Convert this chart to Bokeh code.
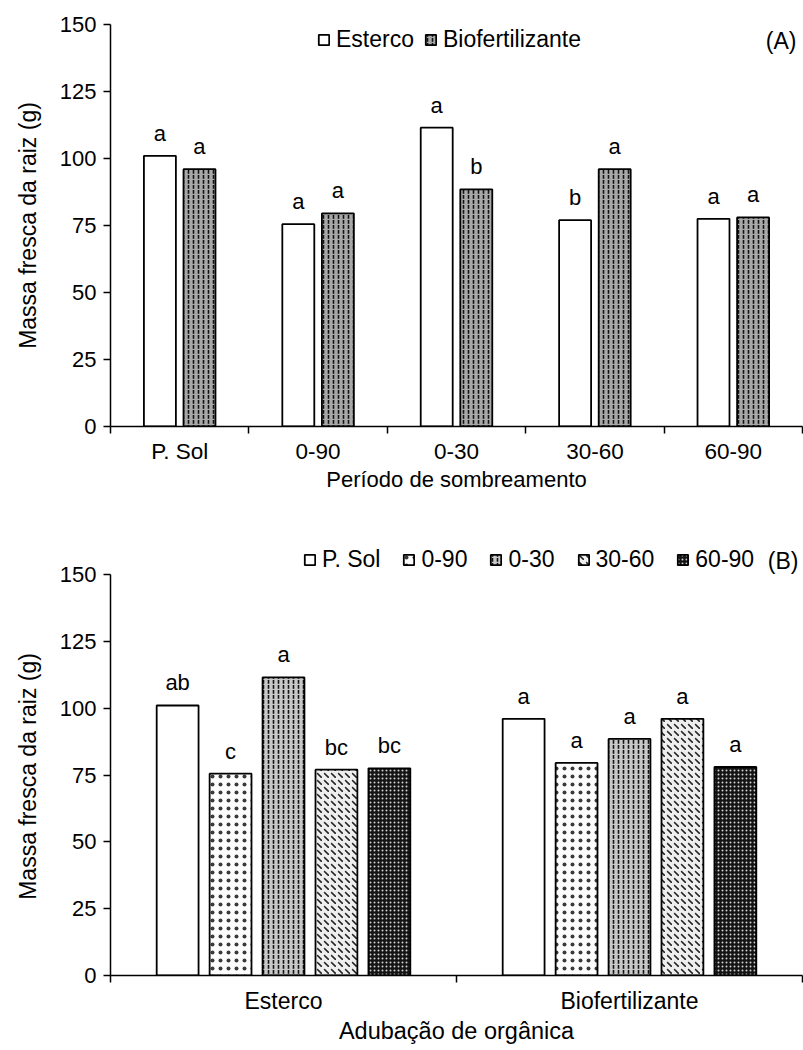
import numpy as np
from bokeh.plotting import figure
from bokeh.models import (ColumnDataSource, Range1d, FixedTicker, Legend,
                          LegendItem, LabelSet, Label)
from bokeh.layouts import column
from bokeh.core.properties import value
from bokeh.embed import file_html
from bokeh.resources import INLINE

# ---------------- data ----------------
periods = ["P. Sol", "0-90", "0-30", "30-60", "60-90"]
fertilizers = ["Esterco", "Biofertilizante"]
esterco = [101.0, 75.5, 111.5, 77.0, 77.5]
biofert = [96.0, 79.5, 88.5, 96.0, 78.0]
letters_esterco_A = ["a", "a", "a", "b", "a"]
letters_biofert_A = ["a", "a", "b", "a", "a"]
letters_esterco_B = ["ab", "c", "a", "bc", "bc"]
letters_biofert_B = ["a", "a", "a", "a", "a"]
y_ticks = [0, 25, 50, 75, 100, 125, 150]
y_max = 150
y_label = "Massa fresca da raiz (g)"
x_title_A = "Período de sombreamento"
x_title_B = "Adubação de orgânica"

FONT = "Liberation Sans"

# pattern styles for the five shading periods (chart B) and the two fertilizers (chart A)
period_styles = [
    dict(fill_color="white"),
    dict(fill_color="#fdfdfd", hatch_pattern="dot", hatch_color="#3a3a3a", hatch_scale=8, hatch_weight=1.0),
    dict(fill_color="#c8c8c8", hatch_pattern="vertical_dash", hatch_color="#111111", hatch_scale=5, hatch_weight=1.6),
    dict(fill_color="#eeeeee", hatch_pattern="left_diagonal_dash", hatch_color="#222222", hatch_scale=7, hatch_weight=1.6),
    dict(fill_color="#141414", hatch_pattern="dot", hatch_color="#d0d0d0", hatch_scale=4, hatch_weight=1.2),
]
fert_styles = [
    dict(fill_color="white"),
    dict(fill_color="#a8a8a8", hatch_pattern="vertical_dash", hatch_color="#111111", hatch_scale=5, hatch_weight=1.6),
]


def style_axes(p, n_cat, centers, names, xtick_size, xtitle_size, tick_standoff, title_standoff):
    p.xgrid.visible = False
    p.ygrid.visible = False
    p.outline_line_color = None
    p.background_fill_color = "white"
    p.border_fill_color = "white"

    ya = p.yaxis[0]
    ya.ticker = FixedTicker(ticks=y_ticks)
    ya.bounds = (0, y_max)
    ya.axis_line_width = 1.5
    ya.major_tick_line_width = 1.5
    ya.major_tick_out = 7
    ya.major_tick_in = 0
    ya.minor_tick_out = 0
    ya.minor_tick_in = 0
    ya.major_label_text_font = FONT
    ya.major_label_text_font_size = "22px"
    ya.major_label_text_color = "black"
    ya.major_label_standoff = 7
    ya.axis_label_text_font = FONT
    ya.axis_label_text_font_size = "23px"
    ya.axis_label_text_font_style = "normal"
    ya.axis_label_text_color = "black"
    ya.axis_label_standoff = 16

    xa = p.xaxis[0]
    xa.ticker = FixedTicker(ticks=list(centers), minor_ticks=list(range(n_cat + 1)))
    xa.major_label_overrides = {float(c): n for c, n in zip(centers, names)}
    xa.axis_line_width = 1.5
    xa.major_tick_out = 0
    xa.major_tick_in = 0
    xa.major_tick_line_color = None
    xa.minor_tick_out = 7
    xa.minor_tick_in = 0
    xa.minor_tick_line_width = 1.5
    xa.minor_tick_line_color = "black"
    xa.major_label_text_font = FONT
    xa.major_label_text_font_size = xtick_size
    xa.major_label_text_color = "black"
    xa.major_label_standoff = tick_standoff
    xa.axis_label_text_font = FONT
    xa.axis_label_text_font_size = xtitle_size
    xa.axis_label_text_font_style = "normal"
    xa.axis_label_text_color = "black"
    xa.axis_label_standoff = title_standoff


def make_legend(items, loc, spacing):
    lg = Legend(items=items, location=loc, orientation="horizontal",
                glyph_width=13, glyph_height=13, label_standoff=6, spacing=spacing,
                padding=0, margin=0, label_height=26,
                label_text_font=FONT, label_text_font_size="23px",
                label_text_color="black",
                border_line_color=None, background_fill_alpha=0)
    return lg


# ---------------- chart A ----------------
nA = len(periods)
cA = np.arange(nA) + 0.5
srcA = ColumnDataSource(dict(
    xe=cA - 0.143, xb=cA + 0.143,
    est=esterco, bio=biofert,
    le=letters_esterco_A, lb=letters_biofert_A,
))

pA = figure(width=803, height=540, x_range=Range1d(0, nA), y_range=Range1d(0, y_max),
            output_backend="svg", toolbar_location=None,
            min_border_left=110, min_border_right=1, min_border_top=24, min_border_bottom=114)
style_axes(pA, nA, cA, periods, "22.5px", "22px", 5, 0)
pA.xaxis[0].axis_label = x_title_A
pA.yaxis[0].axis_label = y_label

rAe = pA.vbar(x="xe", top="est", width=0.231, source=srcA, line_color="black",
              line_width=1.8, **fert_styles[0])
rAb = pA.vbar(x="xb", top="bio", width=0.231, source=srcA, line_color="black",
              line_width=1.8, **fert_styles[1])
for xcol, ycol, tcol in (("xe", "est", "le"), ("xb", "bio", "lb")):
    pA.add_layout(LabelSet(x=xcol, y=ycol, text=tcol, source=srcA, y_offset=15,
                           text_align="center", text_baseline="alphabetic",
                           text_font=value(FONT), text_font_size=value("22px"),
                           text_color="black"))
legA = make_legend([LegendItem(label=fertilizers[0], renderers=[rAe]),
                    LegendItem(label=fertilizers[1], renderers=[rAb])],
                   (207, 373), 10)
pA.add_layout(legA)
pA.add_layout(Label(x=686, y=386, x_units="screen", y_units="screen", text="(A)",
                    text_align="right", text_baseline="middle", text_font=FONT,
                    text_font_size="23px", text_color="black"))

# ---------------- chart B ----------------
nB = len(fertilizers)
cB = np.arange(nB) + 0.5
# frame is 430 px tall, of which 401 px hold 0..150; extra headroom for the legend
yB_top = y_max * 430 / 401
pB = figure(width=803, height=508, x_range=Range1d(0, nB), y_range=Range1d(0, yB_top),
            output_backend="svg", toolbar_location=None,
            min_border_left=110, min_border_right=1, min_border_top=5, min_border_bottom=73)
style_axes(pB, nB, cB, fertilizers, "23px", "23.5px", 5, 1)
pB.xaxis[0].axis_label = x_title_B
# trailing no-break spaces keep the label centred on the 0-150 part of the axis
pB.yaxis[0].axis_label = y_label + "\u00a0" * 5

itemsB = []
for j, per in enumerate(periods):
    src = ColumnDataSource(dict(
        x=cB + (j - 2) * 0.153,
        top=[esterco[j], biofert[j]],
        lab=[letters_esterco_B[j], letters_biofert_B[j]],
    ))
    r = pB.vbar(x="x", top="top", width=0.121, source=src, line_color="black",
                line_width=1.8, **period_styles[j])
    pB.add_layout(LabelSet(x="x", y="top", text="lab", source=src, y_offset=15,
                           text_align="center", text_baseline="alphabetic",
                           text_font=value(FONT), text_font_size=value("22px"),
                           text_color="black"))
    itemsB.append(LegendItem(label=per, renderers=[r]))
legB = make_legend(itemsB, (193, 402), 22)
pB.add_layout(legB)
pB.add_layout(Label(x=688, y=415, x_units="screen", y_units="screen", text="(B)",
                    text_align="right", text_baseline="middle", text_font=FONT,
                    text_font_size="23px", text_color="black"))

layout = column(pA, pB, spacing=0)
open("out.html", "w").write(file_html(layout, INLINE))
